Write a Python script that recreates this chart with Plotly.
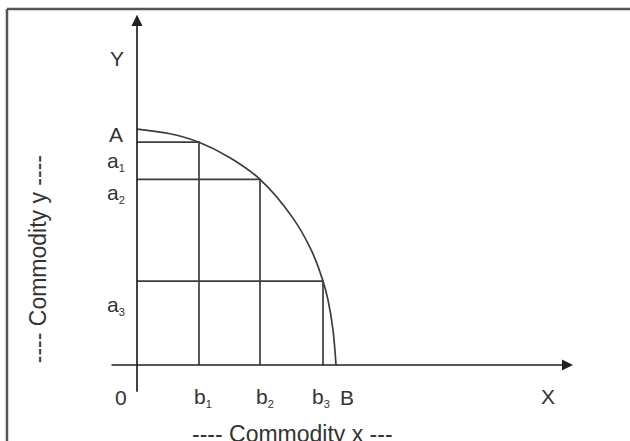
import plotly.graph_objects as go

# Frontier curve points (x = commodity x, y = commodity y)
curve_x = [0, 1.65, 3.1, 4.65, 6.15, 7.8, 8.75, 9.3, 9.55, 9.8, 9.95]
curve_y = [10.04, 9.84, 9.48, 8.82, 7.9, 6.25, 4.82, 3.57, 2.77, 1.49, 0]

# Combination points on the frontier
b_vals = [3.1, 6.15, 9.3]
a_vals = [9.48, 7.9, 3.57]

# Tick-like labels
SUB = "<sub><span style='font-size:11px'>{}</span></sub>"
y_labels = ["A", "a" + SUB.format(1), "a" + SUB.format(2), "a" + SUB.format(3)]
y_label_pos = [9.8, 8.68, 7.3, 2.55]
x_labels = ["0", "b" + SUB.format(1), "b" + SUB.format(2), "b" + SUB.format(3), "B"]
x_label_pos = [-0.8, 3.3, 6.4, 9.2, 10.5]

LINE = "#3c3c3c"
FONT = dict(family="Liberation Sans, Arial, sans-serif", size=21, color="#333333")
TFONT = dict(family="Liberation Sans, Arial, sans-serif", size=23, color="#333333")

fig = go.Figure()

# frontier
fig.add_trace(go.Scatter(x=curve_x, y=curve_y, mode="lines", line_shape="spline",
                         line=dict(color=LINE, width=1.7), hoverinfo="skip"))
# guide lines
for b, a in zip(b_vals, a_vals):
    fig.add_trace(go.Scatter(x=[0, b, b], y=[a, a, 0], mode="lines",
                             line=dict(color=LINE, width=1.7), hoverinfo="skip"))

# axes with arrows
fig.add_annotation(x=0, y=14.9, ax=0, ay=-1.2, xref="x", yref="y", axref="x", ayref="y",
                   text="", showarrow=True, arrowhead=2, arrowsize=1.3, arrowwidth=1.7,
                   arrowcolor="#222222", standoff=0)
fig.add_annotation(x=21.8, y=0, ax=-1.35, ay=0, xref="x", yref="y", axref="x", ayref="y",
                   text="", showarrow=True, arrowhead=2, arrowsize=1.3, arrowwidth=1.7,
                   arrowcolor="#222222", standoff=0)

for t, yv in zip(y_labels, y_label_pos):
    fig.add_annotation(x=-1.05, y=yv, text=t, showarrow=False, font=FONT,
                       xref="x", yref="y", xanchor="center", yanchor="middle")
for t, xv in zip(x_labels, x_label_pos):
    fig.add_annotation(x=xv, y=-1.4, text=t, showarrow=False, font=FONT,
                       xref="x", yref="y", xanchor="center", yanchor="middle")

fig.add_annotation(x=-1.0, y=13.06, text="Y", showarrow=False, font=FONT,
                   xref="x", yref="y")
fig.add_annotation(x=20.55, y=-1.36, text="X", showarrow=False, font=FONT,
                   xref="x", yref="y")

# axis titles
fig.add_annotation(x=7.75, y=-2.95, text="---- Commodity x ---", showarrow=False,
                   font=TFONT, xref="x", yref="y")
fig.add_annotation(x=-4.95, y=4.5, text="---- Commodity y ----", showarrow=False,
                   font=TFONT, xref="x", yref="y", textangle=-90)

# frame (top and left edges)
fig.add_shape(type="line", xref="paper", yref="paper", x0=7/630, x1=1, y0=1-9/441, y1=1-9/441,
              line=dict(color="#555555", width=2.5))
fig.add_shape(type="line", xref="paper", yref="paper", x0=7/630, x1=7/630, y0=0, y1=1-9/441,
              line=dict(color="#555555", width=2.5))

fig.update_layout(
    width=630, height=441, margin=dict(l=0, r=0, t=0, b=0),
    paper_bgcolor="white", plot_bgcolor="white", showlegend=False,
    xaxis=dict(range=[-6.85, 24.65], visible=False, fixedrange=True),
    yaxis=dict(range=[-3.234, 15.532], visible=False, fixedrange=True),
)

fig.write_html("out.html", config={"displayModeBar": False, "staticPlot": True},
               post_script="document.body.style.margin='0';")
